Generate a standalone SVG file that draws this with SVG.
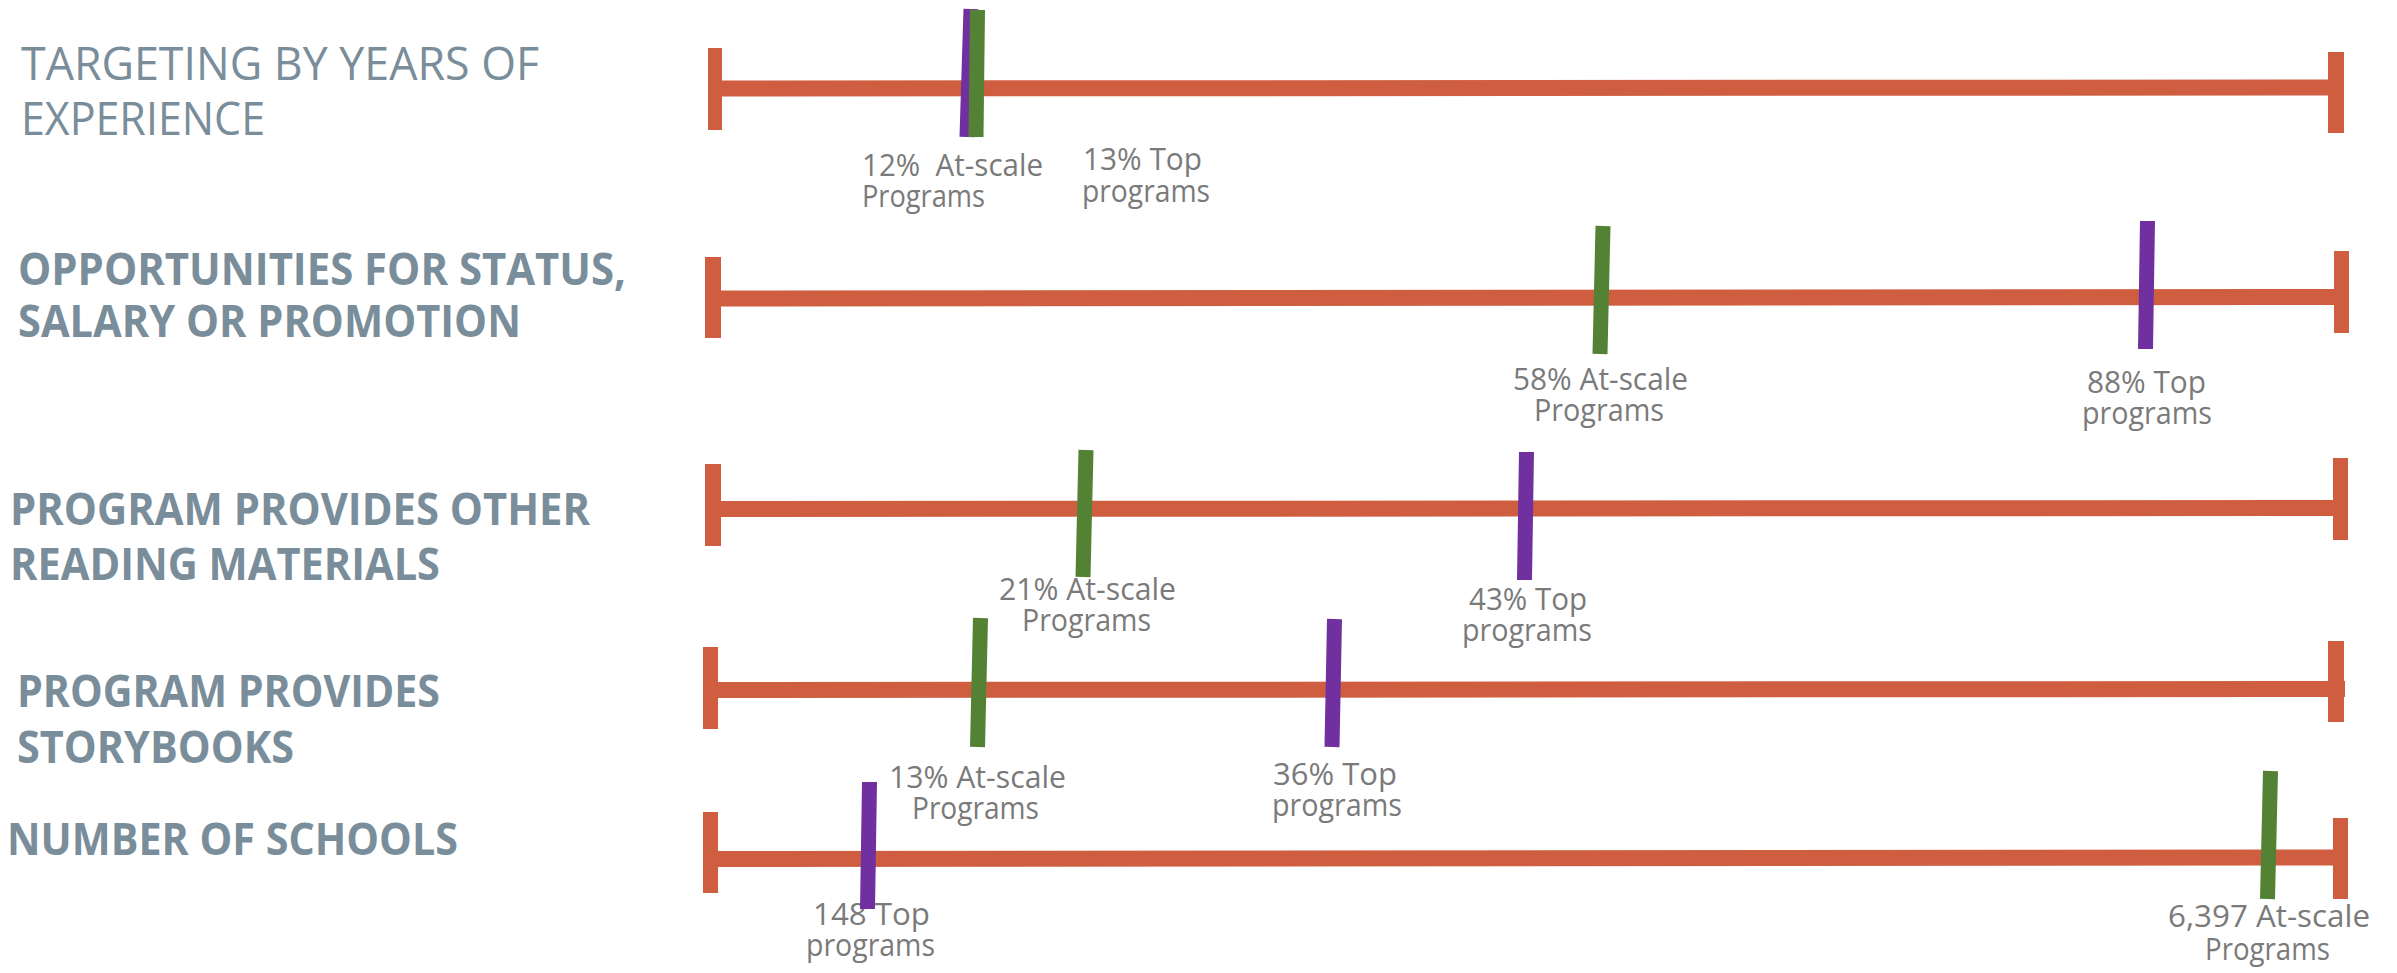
<svg xmlns="http://www.w3.org/2000/svg" width="2397" height="973" viewBox="0 0 2397 973">
<style>
.bg{fill:#ffffff}
.bar{stroke:#CF5E41;stroke-width:16;stroke-linecap:butt;fill:none}
.cap{fill:#CF5E41}
.g{stroke:#548235;stroke-width:15;stroke-linecap:butt}
.p{stroke:#7030A0;stroke-width:15;stroke-linecap:butt}
.t{font-family:"Open Sans","Liberation Sans",sans-serif;font-size:45px;fill:#7A8D9A}
.tb{font-weight:700}
.l{font-family:"Open Sans","Liberation Sans",sans-serif;font-size:31px;fill:#7A7A7A}
</style>
<rect class="bg" x="0" y="0" width="2397" height="973"/>

<g id="row1">
  <text class="t"><tspan x="21" y="80" textLength="518" lengthAdjust="spacingAndGlyphs">TARGETING BY YEARS OF</tspan><tspan x="21" y="135" textLength="244" lengthAdjust="spacingAndGlyphs">EXPERIENCE</tspan></text>
  <line class="bar" x1="715" y1="88.5" x2="2336" y2="87.5"/>
  <rect class="cap" x="708" y="48" width="14" height="82"/>
  <rect class="cap" x="2328" y="52" width="16" height="81"/>
  <line class="p" x1="971" y1="9" x2="967" y2="137"/>
  <line class="g" x1="977.5" y1="10" x2="976" y2="137"/>
  <text class="l" xml:space="preserve"><tspan x="862" y="176" textLength="181" lengthAdjust="spacingAndGlyphs">12%  At-scale</tspan><tspan x="862" y="207" textLength="123" lengthAdjust="spacingAndGlyphs">Programs</tspan></text>
  <text class="l"><tspan x="1083" y="170" textLength="119" lengthAdjust="spacingAndGlyphs">13% Top</tspan><tspan x="1082" y="202" textLength="128" lengthAdjust="spacingAndGlyphs">programs</tspan></text>
</g>

<g id="row2">
  <text class="t tb"><tspan x="18" y="285" textLength="608" lengthAdjust="spacingAndGlyphs">OPPORTUNITIES FOR STATUS,</tspan><tspan x="18" y="337" textLength="503" lengthAdjust="spacingAndGlyphs">SALARY OR PROMOTION</tspan></text>
  <line class="bar" x1="713" y1="298.5" x2="2341" y2="297"/>
  <rect class="cap" x="705" y="257" width="16" height="81"/>
  <rect class="cap" x="2334" y="251" width="15" height="82"/>
  <line class="g" x1="1603" y1="226" x2="1600" y2="354"/>
  <line class="p" x1="2147.5" y1="221" x2="2145.5" y2="349"/>
  <text class="l"><tspan x="1513" y="390" textLength="175" lengthAdjust="spacingAndGlyphs">58% At-scale</tspan><tspan x="1534" y="421" textLength="130" lengthAdjust="spacingAndGlyphs">Programs</tspan></text>
  <text class="l"><tspan x="2087" y="393" textLength="119" lengthAdjust="spacingAndGlyphs">88% Top</tspan><tspan x="2082" y="424" textLength="130" lengthAdjust="spacingAndGlyphs">programs</tspan></text>
</g>

<g id="row3">
  <text class="t tb"><tspan x="10" y="525" textLength="580" lengthAdjust="spacingAndGlyphs">PROGRAM PROVIDES OTHER</tspan><tspan x="10" y="580" textLength="430" lengthAdjust="spacingAndGlyphs">READING MATERIALS</tspan></text>
  <line class="bar" x1="713" y1="509" x2="2340" y2="508"/>
  <rect class="cap" x="705" y="464" width="16" height="82"/>
  <rect class="cap" x="2333" y="458" width="15" height="82"/>
  <line class="g" x1="1086" y1="450" x2="1083" y2="577"/>
  <line class="p" x1="1526.5" y1="452" x2="1524.5" y2="580"/>
  <text class="l"><tspan x="999" y="600" textLength="177" lengthAdjust="spacingAndGlyphs">21% At-scale</tspan><tspan x="1022" y="631" textLength="129" lengthAdjust="spacingAndGlyphs">Programs</tspan></text>
  <text class="l"><tspan x="1469" y="610" textLength="118" lengthAdjust="spacingAndGlyphs">43% Top</tspan><tspan x="1462" y="641" textLength="130" lengthAdjust="spacingAndGlyphs">programs</tspan></text>
</g>

<g id="row4">
  <text class="t tb"><tspan x="17" y="707" textLength="423" lengthAdjust="spacingAndGlyphs">PROGRAM PROVIDES</tspan><tspan x="17" y="763" textLength="277" lengthAdjust="spacingAndGlyphs">STORYBOOKS</tspan></text>
  <line class="bar" x1="711" y1="690" x2="2345" y2="689"/>
  <rect class="cap" x="703" y="647" width="15" height="82"/>
  <rect class="cap" x="2328" y="641" width="16" height="81"/>
  <line class="g" x1="980.5" y1="618" x2="977.5" y2="747"/>
  <line class="p" x1="1334.5" y1="619" x2="1332" y2="747"/>
  <text class="l"><tspan x="889" y="788" textLength="177" lengthAdjust="spacingAndGlyphs">13% At-scale</tspan><tspan x="912" y="819" textLength="127" lengthAdjust="spacingAndGlyphs">Programs</tspan></text>
  <text class="l"><tspan x="1273" y="785" textLength="124" lengthAdjust="spacingAndGlyphs">36% Top</tspan><tspan x="1272" y="816" textLength="130" lengthAdjust="spacingAndGlyphs">programs</tspan></text>
</g>

<g id="row5">
  <text class="t tb" x="7" y="855" textLength="451" lengthAdjust="spacingAndGlyphs">NUMBER OF SCHOOLS</text>
  <line class="bar" x1="711" y1="859" x2="2340" y2="857.5"/>
  <rect class="cap" x="703" y="812" width="15" height="81"/>
  <rect class="cap" x="2333" y="818" width="15" height="81"/>
  <text class="l"><tspan x="813" y="925" textLength="117" lengthAdjust="spacingAndGlyphs">148 Top</tspan><tspan x="806" y="956" textLength="129" lengthAdjust="spacingAndGlyphs">programs</tspan></text>
  <line class="p" x1="869.5" y1="782" x2="867.5" y2="909"/>
  <line class="g" x1="2270.5" y1="771" x2="2267.5" y2="899"/>
  <text class="l"><tspan x="2168" y="927" textLength="202" lengthAdjust="spacingAndGlyphs">6,397 At-scale</tspan><tspan x="2205" y="960" textLength="125" lengthAdjust="spacingAndGlyphs">Programs</tspan></text>
</g>
</svg>
